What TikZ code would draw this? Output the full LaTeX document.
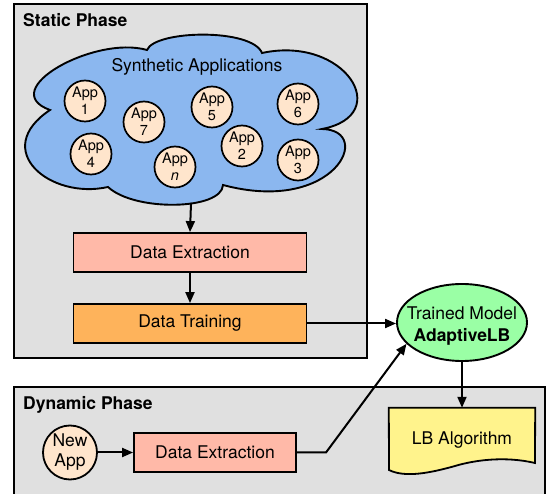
\documentclass[tikz,border=0pt]{standalone}
\usepackage{fontspec}
\setmainfont{TeX Gyre Heros}
\usetikzlibrary{arrows.meta,shapes.geometric}
\definecolor{phasegray}{HTML}{E0E0E0}
\definecolor{cloudblue}{HTML}{8BB7EF}
\definecolor{apppeach}{HTML}{FFE5CC}
\definecolor{extractpink}{HTML}{FFB9A8}
\definecolor{trainorange}{HTML}{FEB35B}
\definecolor{modelgreen}{HTML}{9AFFA5}
\definecolor{lbyellow}{HTML}{FFF38C}
\tikzset{
  every node/.style={font=\fontsize{17.5}{20}\selectfont},
  phasebox/.style={draw=black, fill=phasegray, line width=1.9pt},
  phaselabel/.style={anchor=base west, inner sep=0pt, font=\fontsize{17.5}{20}\selectfont\bfseries},
  appnode/.style={circle, draw=black, fill=apppeach, line width=1.7pt, minimum size=41pt, inner sep=0pt, align=center, font=\fontsize{14.5}{17}\selectfont},
  procbox/.style={draw=black, line width=1.8pt, minimum width=233pt, minimum height=39pt, inner sep=0pt},
  arr/.style={-{Triangle[length=11pt,width=9pt]}, line width=2pt}
}
\begin{document}
\begin{tikzpicture}[x=1pt,y=-1pt]
\useasboundingbox (0,0) rectangle (550,494);
\clip (0,0) rectangle (550,494);
% static phase
\draw[phasebox] (14,4) rectangle (367,358);
\node[phaselabel] (sp) at (23,27) {Static Phase};
% cloud
\draw[fill=cloudblue, line width=1.9pt]
  (50,110) .. controls (-5,90) and (95,35) .. (147,50)
  .. controls (155,30) and (252,28) .. (262,53)
  .. controls (345,35) and (395,115) .. (322,129)
  .. controls (375,130) and (335,215) .. (223,185)
  .. controls (222,210) and (135,212) .. (108,187)
  .. controls (50,200) and (-10,150) .. (50,110) -- cycle;
\coordinate (cloudbot) at (191,203);
\node (synth) at (197,67) {Synthetic Applications};
\node[appnode] (a1) at (85,101) {App\\1};
\node[appnode] (a7) at (144,122) {App\\7};
\node[appnode] (a4) at (91,154) {App\\4};
\node[appnode] (an) at (175,167) {App\\\textit{n}};
\node[appnode] (a5) at (212,107) {App\\5};
\node[appnode] (a6) at (298,104) {App\\6};
\node[appnode] (a2) at (242,146) {App\\2};
\node[appnode] (a3) at (298,160) {App\\3};
% processing
\node[procbox, fill=extractpink] (de1) at (190,252.5) {Data Extraction};
\node[procbox, fill=trainorange] (dt) at (190,323.5) {Data Training};
\draw[arr] (cloudbot) -- (de1.north);
\draw[arr] (de1) -- (dt);
% model
\node[ellipse, draw=black, fill=modelgreen, line width=1.9pt, minimum width=130pt, minimum height=77pt, inner sep=0pt] (tm) at (462,322.5) {};
\node[align=center, font=\fontsize{17.5}{22}\selectfont] (tmtext) at (462,326) {Trained Model\\\textbf{AdaptiveLB}};
\draw[arr] (dt.east) -- (dt.east -| tm.west);
% dynamic phase
\draw[phasebox] (14,387) rectangle (545,510);
\node[phaselabel] (dp) at (23,410) {Dynamic Phase};
\node[circle, draw=black, fill=apppeach, line width=1.8pt, minimum size=54pt, inner sep=0pt, align=center, font=\fontsize{17.5}{20}\selectfont] (na) at (70,452.5) {New\\App};
\node[procbox, fill=extractpink, minimum width=162pt] (de2) at (215,452.5) {Data Extraction};
\draw[arr] (na.east) -- (de2.west);
\coordinate (bend) at (326,452.5);
\draw[arr] (de2.east) -- (bend) -- (tm.201);
% LB algorithm
\node[minimum width=146pt, minimum height=62pt, inner sep=0pt] (lb) at (462,439) {};
\draw[fill=lbyellow, line width=1.8pt]
  (lb.north west) -- (lb.north east) -- (535,463)
  .. controls (505,456) and (475,460) .. (455,466)
  .. controls (430,473) and (405,478) .. (389,470) -- cycle;
\node (lbtext) at (462,440) {LB Algorithm};
\draw[arr] (tm.south) -- (lb.north);
\end{tikzpicture}
\end{document}
